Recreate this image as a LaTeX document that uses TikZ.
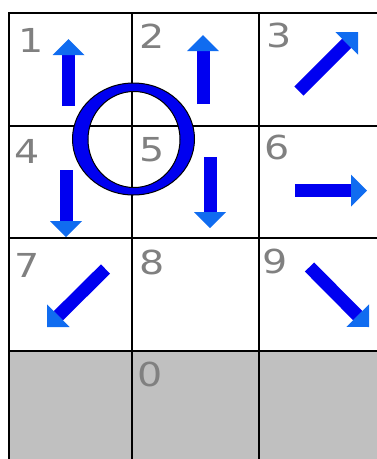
\documentclass[tikz,border=0pt]{standalone}
\usepackage{fontspec}
\newfontfamily\digitfont[FakeStretch=1.2]{DejaVu Sans}
\usetikzlibrary{arrows.meta}
\definecolor{shaft}{RGB}{0,0,240}
\definecolor{tipblue}{RGB}{16,108,240}
\definecolor{digit}{RGB}{128,128,128}
\definecolor{idle}{RGB}{192,192,192}

\begin{document}
\begin{tikzpicture}[x=1pt, y=-1pt,
    num/.style={anchor=base west, inner sep=0pt, text=digit,
                font=\digitfont\fontsize{33}{33}\selectfont},
    mv/.style={draw=shaft, line width=13pt,
               -{Triangle[length=16pt, width=32pt, line width=0pt, color=tipblue, fill=tipblue]}},
    cellline/.style={draw=black, line width=1.5pt},
    ring/.style={draw=black, line width=1pt, fill=shaft, even odd rule},
  ]
  \useasboundingbox (0,0) rectangle (377,459);
  \clip (0,0) rectangle (377,459);

  % the unused bottom row
  \fill[idle] (9,351) rectangle (390,470);

  % the cell borders
  \draw[cellline] (9,470) -- (9,13) -- (390,13);
  \draw[cellline] (132,13) -- (132,470);
  \draw[cellline] (259,13) -- (259,470);
  \draw[cellline] (9,126) -- (390,126);
  \draw[cellline] (9,238) -- (390,238);
  \draw[cellline] (9,351) -- (390,351);

  % the key numbers
  \node[num] (n1) at (18,52)  {1};
  \node[num] (n2) at (139,48) {2};
  \node[num] (n3) at (266,47) {3};
  \node[num] (n4) at (14,163) {4};
  \node[num] (n5) at (139,161) {5};
  \node[num] (n6) at (264,159) {6};
  \node[num] (n7) at (14,277) {7};
  \node[num] (n8) at (139,274) {8};
  \node[num] (n9) at (262,273) {9};
  \node[num] (n0) at (137,386) {0};

  % the ring over the centre
  \path[ring] (133.5,139) ellipse [x radius=61pt, y radius=56pt]
              (134,139.5) ellipse [x radius=46pt, y radius=48pt];

  % the moves, tail to tip
  \coordinate (t1) at (68.5,106); \coordinate (h1) at (68.5,39);
  \coordinate (t2) at (203,104);  \coordinate (h2) at (203,35);
  \coordinate (t3) at (299,91);   \coordinate (h3) at (358,32);
  \coordinate (t4) at (66,170);   \coordinate (h4) at (66,237);
  \coordinate (t5) at (210,157);  \coordinate (h5) at (210,228);
  \coordinate (t6) at (295,190.5); \coordinate (h6) at (367,190.5);
  \coordinate (t7) at (105.5,269); \coordinate (h7) at (47,327);
  \coordinate (t9) at (309.5,267); \coordinate (h9) at (369,327);

  \draw[mv] (t1) -- (h1);
  \draw[mv] (t2) -- (h2);
  \draw[mv] (t3) -- (h3);
  \draw[mv] (t4) -- (h4);
  \draw[mv] (t5) -- (h5);
  \draw[mv] (t6) -- (h6);
  \draw[mv] (t7) -- (h7);
  \draw[mv] (t9) -- (h9);
\end{tikzpicture}
\end{document}
